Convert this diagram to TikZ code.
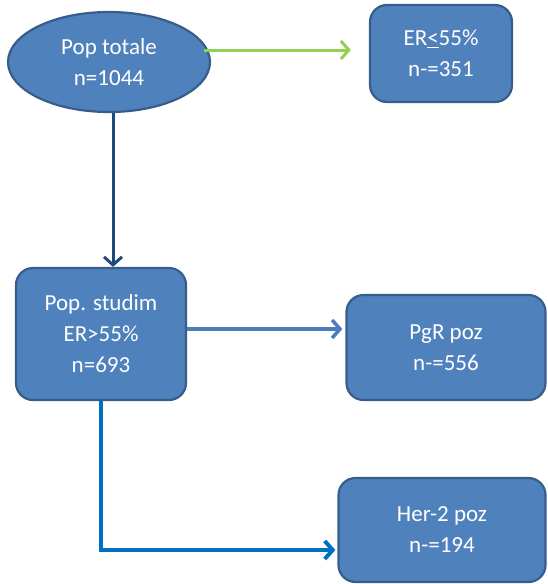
\documentclass[tikz,border=0pt]{standalone}
\usepackage{fontspec}
\setmainfont{Carlito}
\usetikzlibrary{shapes.geometric,arrows.meta,calc}
\definecolor{boxfill}{HTML}{4F81BD}
\definecolor{boxline}{HTML}{385D8A}
\definecolor{arrgreen}{HTML}{92D050}
\definecolor{arrdark}{HTML}{1F497D}
\definecolor{arrmid}{HTML}{4A7EBB}
\definecolor{arrbright}{HTML}{0070C0}
\begin{document}
\begin{tikzpicture}[x=1pt, y=-1pt,
    blob/.style={ellipse, draw=boxline, fill=boxfill, line width=2.2pt, inner sep=0pt,
      text=white, align=center, font=\fontsize{23}{31}\selectfont},
    card/.style={rectangle, rounded corners=17pt, draw=boxline, fill=boxfill, line width=2.2pt,
      inner sep=0pt, text=white, align=center, font=\fontsize{23}{31}\selectfont},
    barb/.style={-{Straight Barb[length=8pt,width=18pt]}}]
    \useasboundingbox (0,0) rectangle (548,584);

    % boxes
    \node[blob, minimum width=202pt, minimum height=100pt] (pop) at (109, 62) {Pop totale\\n=1044};
    \node[card, minimum width=142pt, minimum height=97pt] (er) at (441, 53.5) {ER\underline{<}55\%\\n-=351};
    \node[card, minimum width=170pt, minimum height=132pt] (studim) at (101, 334) {Pop. studim\\ER>55\%\\n=693};
    \node[card, minimum width=199pt, minimum height=105pt] (pgr) at (446, 347.5) {PgR poz\\n-=556};
    \node[card, minimum width=207pt, minimum height=104pt] (her) at (442, 530) {Her-2 poz\\n-=194};

    % arrows
    \draw[arrgreen, line width=3pt, barb, shorten >=18pt]
        ([shift={(-7pt,12pt)}]pop.east) -- ([yshift=12pt]pop.east -| er.west);
    \draw[arrdark, line width=3pt, barb]
        ([xshift=4pt]pop.south) -- ([xshift=4pt]pop.south |- studim.north);
    \draw[arrmid, line width=3.5pt, barb, shorten >=3pt]
        ([yshift=5pt]studim.east) -- ([yshift=5pt]studim.east -| pgr.west);
    \draw[arrbright, line width=4pt, barb, shorten >=2pt]
        (studim.south) |- ([yshift=-20pt]her.west);
\end{tikzpicture}
\end{document}
